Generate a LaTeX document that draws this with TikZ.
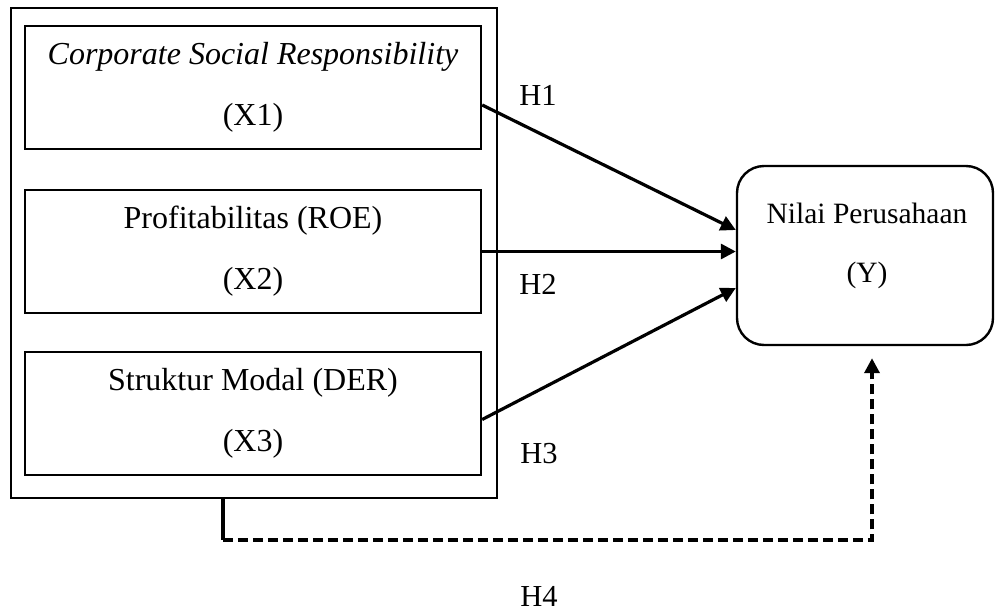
\documentclass[tikz,border=0pt]{standalone}
\usepackage{fontspec}
\setmainfont{Liberation Serif}
\usetikzlibrary{arrows.meta,calc}
\begin{document}
\begin{tikzpicture}[x=1pt,y=-1pt,
  txtfont/.style={font=\fontsize{32}{61}\selectfont},
  smallfont/.style={font=\fontsize{29.5}{59}\selectfont},
  varbox/.style={draw,line width=2.4pt,minimum width=456pt,minimum height=123pt,inner sep=0pt,align=center,txtfont},
  outerbox/.style={draw,line width=2.4pt,minimum width=486pt,minimum height=490pt,inner sep=0pt},
  ybox/.style={draw,line width=2.4pt,rounded corners=27pt,minimum width=256pt,minimum height=179pt,inner sep=0pt},
  lbl/.style={font=\fontsize{30.5}{36}\selectfont,inner sep=0pt,anchor=base},
  arr/.style={line width=3.2pt,-{Triangle[length=15pt,width=15pt]}},
  darr/.style={line width=3.6pt,dash pattern=on 10pt off 5pt},
]
\useasboundingbox (0,0) rectangle (995,613);
\node[outerbox] (outer) at (254,253) {};
\node[varbox] (x1) at (253,87.5) {\textit{Corporate Social Responsibility}\\(X1)};
\node[varbox] (x2) at (253,251.5) {Profitabilitas (ROE)\\(X2)};
\node[varbox] (x3) at (253,413.5) {Struktur Modal (DER)\\(X3)};
\node[ybox] (Y) at (865,255.5) {};
\node[smallfont,inner sep=0pt,align=center] (ytxt) at (867,245.5) {Nilai Perusahaan\\(Y)};

\draw[arr] ($(x1.east)+(0,17.5)$) -- ($(Y.west)+(0,-25.5)$);
\draw[arr] (x2.east) -- (x2.east -| Y.west);
\draw[arr] ($(x3.east)+(0,6)$) -- ($(Y.west)+(0,32.5)$);

\coordinate (d0) at ($(outer.south west)+(213,0)$);
\coordinate (d1) at ($(d0)+(0,41)$);
\coordinate (d3) at ($(Y.south)+(7,12)$);
\coordinate (d2) at (d1 -| d3);
\draw[line width=3.6pt] (d0) -- (d1);
\draw[darr] (d1) -- (d2) -- ($(d3)+(0,14)$);
\draw[line width=3.6pt,-{Triangle[length=15pt,width=15pt]}] ($(d3)+(0,16)$) -- (d3);

\node[lbl] (h1) at (538,105.5) {H1};
\node[lbl] (h2) at (538,294.5) {H2};
\node[lbl] (h3) at (539,463.5) {H3};
\node[lbl] (h4) at (539,606) {H4};
\end{tikzpicture}
\end{document}
